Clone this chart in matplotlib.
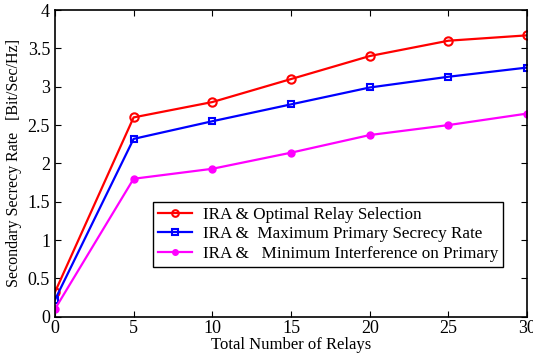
import matplotlib
matplotlib.use("Agg")
import matplotlib.pyplot as plt

relays = [0, 5, 10, 15, 20, 25, 30]
rate_optimal = [0.32, 2.60, 2.80, 3.10, 3.40, 3.60, 3.67]
rate_max_secrecy = [0.22, 2.32, 2.55, 2.77, 2.99, 3.13, 3.25]
rate_min_interf = [0.10, 1.80, 1.93, 2.14, 2.37, 2.50, 2.65]

plt.rcParams["font.family"] = ["Liberation Serif", "DejaVu Serif"]

fig = plt.figure(figsize=(5.33, 3.58), dpi=100)
ax = fig.add_axes([0.103, 0.115, 0.886, 0.857])

ax.plot(relays, rate_optimal, color="red", lw=1.6, marker="o", ms=6,
        mfc="none", mew=1.5, label="IRA & Optimal Relay Selection")
ax.plot(relays, rate_max_secrecy, color="blue", lw=1.6, marker="s", ms=5,
        mfc="none", mew=1.5, label="IRA &  Maximum Primary Secrecy Rate")
ax.plot(relays, rate_min_interf, color="magenta", lw=1.6, marker="o", ms=5,
        label="IRA &   Minimum Interference on Primary")

ax.set_xlim(0, 30)
ax.set_ylim(0, 4)
ax.set_xticks(range(0, 31, 5))
ax.set_yticks([0, 0.5, 1, 1.5, 2, 2.5, 3, 3.5, 4])
ax.set_yticklabels(["0", "0.5", "1", "1.5", "2", "2.5", "3", "3.5", "4"])
ax.tick_params(direction="in", top=True, right=True, labelsize=13, length=4)
ax.tick_params(axis="x", pad=2)
for s in ax.spines.values():
    s.set_linewidth(1.2)

ax.set_xlabel("Total Number of Relays", fontsize=12, labelpad=0)
ax.set_ylabel("Secondary Secrecy Rate   [Bit/Sec/Hz]", fontsize=11.5, labelpad=4)

leg = ax.legend(loc="lower left", bbox_to_anchor=(0.19, 0.135), fontsize=12.3,
                fancybox=False, edgecolor="black", framealpha=1,
                handlelength=2.0, handletextpad=0.6, markerscale=0.8,
                borderpad=0.3, labelspacing=0.2)
leg.get_frame().set_linewidth(1.0)

fig.savefig("out.png", dpi=100)
